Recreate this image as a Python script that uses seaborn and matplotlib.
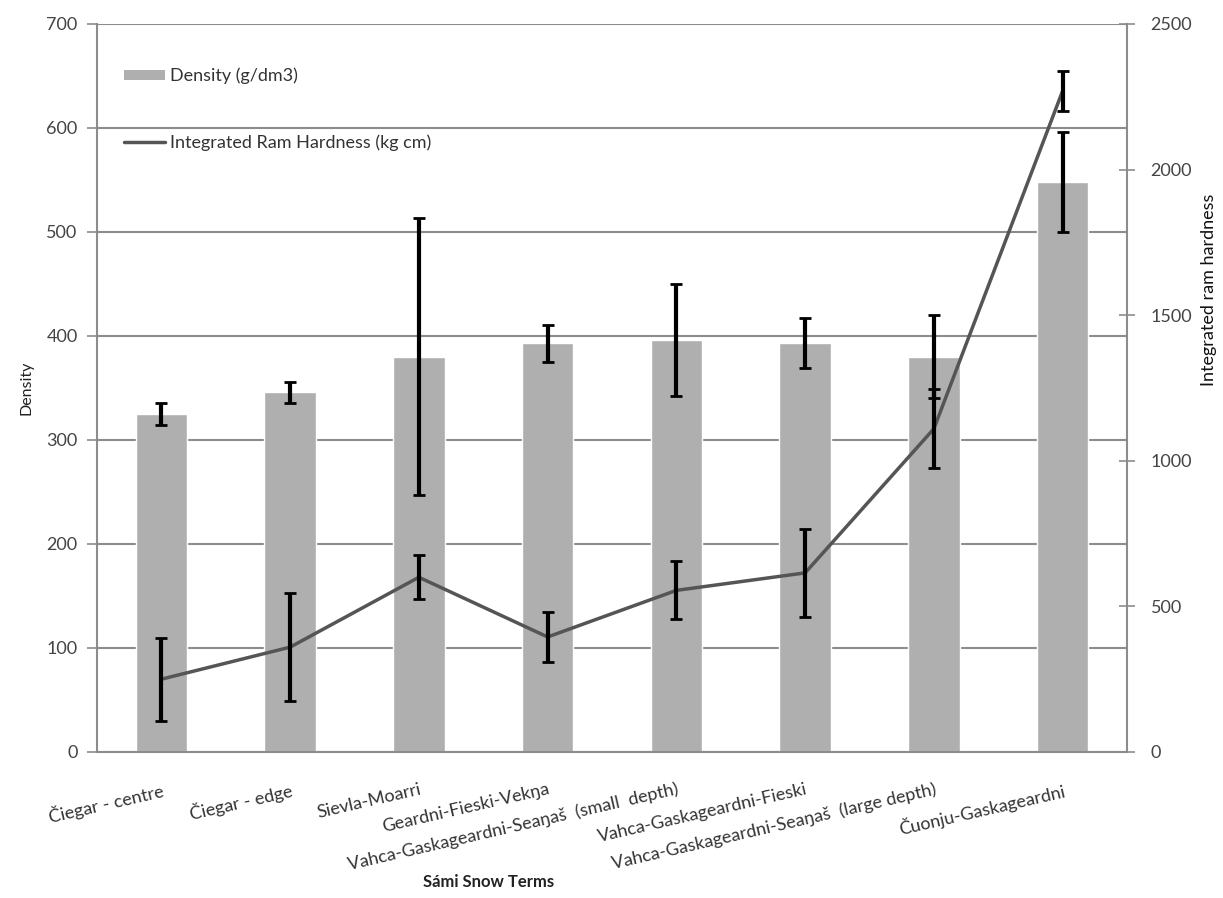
import numpy as np
import pandas as pd
import matplotlib
matplotlib.use("Agg")
import matplotlib.pyplot as plt
import seaborn as sns
from matplotlib.patches import Patch
from matplotlib.lines import Line2D

# Snow types and measurements
terms = [
    "Čiegar - centre",
    "Čiegar - edge",
    "Sievla-Moarri",
    "Geardni-Fieski-Vekŋa",
    "Vahca-Gaskageardni-Seaŋaš  (small  depth)",
    "Vahca-Gaskageardni-Fieski",
    "Vahca-Gaskageardni-Seaŋaš  (large depth)",
    "Čuonju-Gaskageardni",
]
density = [325, 346, 380, 393, 396, 393, 380, 548]
density_err = [11, 10, 133, 18, 54, 24, 40, 48]
hardness = [250, 360, 600, 395, 555, 615, 1110, 2270]
hardness_err = [143, 186, 75, 85, 100, 150, 135, 70]

density_ticks = [0, 100, 200, 300, 400, 500, 600, 700]
hardness_ticks = [0, 500, 1000, 1500, 2000, 2500]

sns.set_style("white")
plt.rcParams["font.family"] = ["Lato", "DejaVu Sans"]

BAR = "#afafaf"
LINE = "#555555"
GRID = "#8c8c8c"
TXT = "#333333"

df = pd.DataFrame({"term": terms, "density": density})
pos = np.arange(len(terms))

fig = plt.figure(figsize=(12.23, 8.98), dpi=100)
ax = fig.add_axes([0.0793, 0.1626, 0.8422, 0.8107])

sns.barplot(data=df, x="term", y="density", color=BAR, width=0.4,
            saturation=1, errorbar=None, ax=ax, zorder=2)
ax.errorbar(pos, density, yerr=density_err, fmt="none", ecolor="black",
            elinewidth=3, capsize=4, capthick=2, zorder=3)

ax.set_xlim(-0.5, len(terms) - 0.5)
ax.set_ylim(0, 700)
ax.set_yticks(density_ticks)
ax.yaxis.grid(True, color=GRID, lw=1.5)
ax.set_axisbelow(True)

# category labels at bar centres, tick marks between categories
ax.set_xticks(pos)
ax.set_xticklabels(terms, rotation=13, ha="right", va="top",
                   rotation_mode="anchor", fontsize=13, color=TXT)
ax.tick_params(axis="x", which="major", length=0, pad=21)
ax.set_xticks(np.arange(-0.5, len(terms)), minor=True)
ax.tick_params(axis="x", which="minor", length=9, direction="inout",
               color=GRID, width=1.2)
ax.tick_params(axis="y", length=7, direction="out", color=GRID, width=1.2,
               labelsize=13, labelcolor="#444444", pad=7)
ax.tick_params(axis="both", left=True, bottom=True)

for s in ["left", "bottom", "right"]:
    ax.spines[s].set_color(GRID)
    ax.spines[s].set_linewidth(1.5)
ax.spines["top"].set_visible(False)

ax.set_xlabel("Sámi Snow Terms", fontsize=12, fontweight="bold", color="#222222")
ax.xaxis.set_label_coords(0.38, -0.168)
ax.set_ylabel("Density", fontsize=11.5, color="#222222")
ax.yaxis.set_label_coords(-0.062, 0.5)

# hardness on the secondary axis
ax2 = ax.twinx()
sns.lineplot(x=pos, y=hardness, color=LINE, lw=2.5, ax=ax2, zorder=4)
ax2.errorbar(pos, hardness, yerr=hardness_err, fmt="none", ecolor="black",
             elinewidth=3, capsize=4, capthick=2, zorder=5)
ax2.set_ylim(0, 2500)
ax2.set_yticks(hardness_ticks)
ax2.tick_params(axis="y", right=True, length=12, direction="inout", color=GRID,
                width=1.2, labelsize=13, labelcolor="#444444", pad=11)
ax2.grid(False)
for s in ["left", "bottom", "right", "top"]:
    ax2.spines[s].set_visible(False)
ax2.set_ylabel("Integrated ram hardness", fontsize=13, color="#111111")
ax2.yaxis.set_label_coords(1.072, 0.635)

handles = [Patch(facecolor=BAR, edgecolor="none"),
           Line2D([], [], color=LINE, lw=2.5)]
labels = ["Density (g/dm3)", "Integrated Ram Hardness (kg cm)"]
leg = ax2.legend(handles, labels, loc="upper left",
                 bbox_to_anchor=(0.01, 0.962), frameon=False, fontsize=13,
                 handlelength=2.3, handleheight=0.5, labelspacing=2.75,
                 handletextpad=0.3)
for t in leg.get_texts():
    t.set_color(TXT)

fig.savefig("out.png", dpi=100)
